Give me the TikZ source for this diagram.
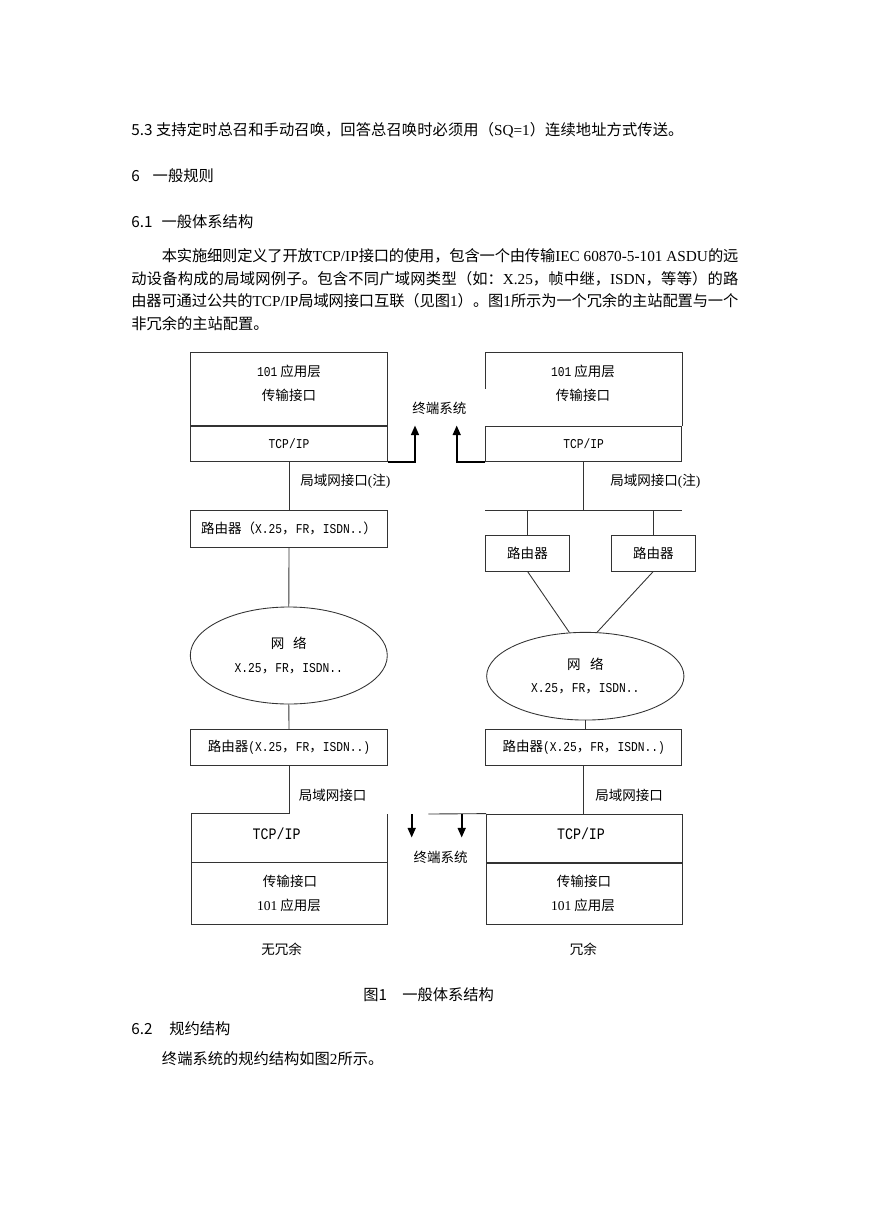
\documentclass[tikz,border=0pt]{standalone}
\usepackage{fontspec}
\setmainfont{Noto Sans CJK SC}
\newfontfamily\tnr{Liberation Serif}
\newfontfamily\hw{Liberation Mono}[FakeStretch=0.833]
\usetikzlibrary{arrows.meta,shapes.geometric,calc}

\newcommand\lat[1]{\mbox{\tnr #1}}
\newlength\pxu
\setlength\pxu{0.24166mm}

\begin{document}
\begin{tikzpicture}[
    x=0.24166mm, y=-0.24166mm,
    font=\fontsize{9.3pt}{11pt}\selectfont,
    ln/.style={draw=black!80, line width=0.6pt},
    box/.style={ln, inner sep=0pt},
    blank/.style={inner sep=0pt},
    txt/.style={inner sep=0pt},
    thk/.style={line width=1.2pt, -{Triangle[length=2.3mm, width=1.9mm]}},
    net/.style={ln, ellipse, inner sep=0pt, align=center},
    body/.style={inner sep=0pt, anchor=west, font=\fontsize{10.5pt}{13pt}\selectfont},
    para/.style={body, anchor=north west, text width=146.7mm, align=justify,
      font=\fontsize{10.5pt}{5.44mm}\selectfont,
      execute at begin node={\XeTeXlinebreaklocale "zh"\XeTeXlinebreakskip=0pt plus 1pt minus 0.5pt
        \tolerance=9999 }},
    mono/.style={font=\fontsize{9.3pt}{11pt}\selectfont\hw},
    big/.style={font=\fontsize{11pt}{13pt}\selectfont\hw}
  ]
  \useasboundingbox (0,0) rectangle (869,1228);

  % page text
  \node[para, text width=133.4mm] (s53) at (131,122.3) {5.3 支持定时总召和手动召唤，回答总召唤时必须用（\lat{SQ=1}）连续地址方式传送。\linebreak};
  \node[body] (h6) at (131,176) {6\hspace{0.85em}一般规则};
  \node[body] (h61) at (131,221.5) {6.1\hspace{0.6em}一般体系结构};
  \node[para] (intro) at (131,248.3) {\hspace*{2em}本实施细则定义了开放\lat{TCP/IP}接口的使用，包含一个由传输\lat{IEC 60870-5-101 ASDU}的远\linebreak
    动设备构成的局域网例子。包含不同广域网类型（如：\lat{X.25}，帧中继，\lat{ISDN}，等等）的路\linebreak
    由器可通过公共的\lat{TCP/IP}局域网接口互联（见图\lat{1}）。图\lat{1}所示为一个冗余的主站配置与一个\linebreak
    非冗余的主站配置。};

  % left: no redundancy
  \node[box, minimum width=196.6\pxu, minimum height=72.6\pxu] (appL) at (289,389) {};
  \node[box, mono, minimum width=196.6\pxu, minimum height=35.7\pxu, anchor=north] (tcpL) at (appL.south) {TCP/IP};
  \node[txt] (appL1) at (289,371.7) {{\hw 101} 应用层};
  \node[txt] (appL2) at (289,395) {传输接口};
  \node[box, minimum width=196.6\pxu, minimum height=37.3\pxu] (rtL) at (289,528.7) {路由器（{\hw X.25}，{\hw FR}，{\hw ISDN..}）};
  \node[net, minimum width=197\pxu, minimum height=97\pxu] (netL) at (288.8,655.5) {网\hspace{0.65em}络\\[6pt]{\hw X.25}，{\hw FR}，{\hw ISDN..}};
  \node[box, minimum width=196.6\pxu, minimum height=35.7\pxu] (rt2L) at (289,747.2) {路由器{\hw (X.25}，{\hw FR}，{\hw ISDN..)}};
  \node[blank, minimum width=195.6\pxu, minimum height=48.3\pxu] (tcpBL) at (289.5,838.2) {};
  \node[blank, minimum width=195.6\pxu, minimum height=61\pxu, anchor=north] (appBL) at (tcpBL.south) {};
  \node[txt, big] (tcpBLt) at (276.7,833.3) {TCP/IP};
  \node[txt] (appBL1) at (290,881.7) {传输接口};
  \node[txt] (appBL2) at (289,905.7) {{\tnr 101} 应用层};
  \node[txt] (noRed) at (281.7,949.3) {无冗余};

  \draw[ln] (tcpL.south) -- (rtL.north);
  \node[txt, anchor=west] (lanL) at (300,481.7) {局域网接口{\tnr (}注{\tnr )}};
  \draw[ln] (rtL.south) -- (netL.north);
  \draw[ln] (netL.south) -- (rt2L.north);
  \draw[ln] (rt2L.south) -- (rt2L.south |- tcpBL.north) -- (tcpBL.north west) -- (appBL.south west)
    -- (appBL.south east) -- (tcpBL.north east);
  \draw[ln] (appBL.north west) -- (appBL.north east);
  \node[txt, anchor=west] (lanBL) at (298.5,795.7) {局域网接口};

  % right: redundancy
  \node[blank, minimum width=196\pxu, minimum height=72.6\pxu] (appR) at (583.7,389) {};
  \draw[ln] ($(appR.south west)+(0,-37)$) -- (appR.north west) -- (appR.north east) -- (appR.south east);
  \node[box, mono, minimum width=196\pxu, minimum height=35.7\pxu, anchor=north] (tcpR) at (appR.south) {TCP/IP};
  \node[txt] (appR1) at (583,371.7) {{\hw 101} 应用层};
  \node[txt] (appR2) at (583,395) {传输接口};
  \coordinate (busW) at (485,510);
  \coordinate (busE) at (681.7,510);
  \draw[ln] (busW) -- (busE);
  \draw[ln] (tcpR.south) -- (tcpR.south |- busW);
  \node[txt, anchor=west] (lanR) at (610,481) {局域网接口{\tnr (}注{\tnr )}};
  \node[box, minimum width=83.6\pxu, minimum height=36\pxu] (rtA) at (527.5,553) {路由器};
  \node[box, minimum width=83.3\pxu, minimum height=36\pxu] (rtB) at (653.3,553) {路由器};
  \draw[ln] (rtA.north) -- (rtA.north |- busW);
  \draw[ln] (rtB.north) -- (rtB.north |- busW);
  \node[net, minimum width=197.3\pxu, minimum height=87.7\pxu] (netR) at (585.3,676.2) {网\hspace{0.7em}络\\[5pt]{\hw X.25}，{\hw FR}，{\hw ISDN..}};
  \draw[ln] (rtA.south) -- (netR.110);
  \draw[ln] (rtB.south) -- (netR.75);
  \node[box, minimum width=196\pxu, minimum height=35.7\pxu] (rt2R) at (583.7,747.2) {路由器{\hw (X.25}，{\hw FR}，{\hw ISDN..)}};
  \draw[ln] (netR.south) -- (netR.south |- rt2R.north);
  \node[box, minimum width=195.8\pxu, minimum height=48.3\pxu] (tcpBR) at (584.4,838.2) {};
  \node[box, minimum width=195.8\pxu, minimum height=61\pxu, anchor=north] (appBR) at (tcpBR.south) {};
  \draw[ln] (rt2R.south) -- (rt2R.south |- tcpBR.north);
  \node[txt, anchor=west] (lanBR) at (595,795.7) {局域网接口};
  \node[txt, big] (tcpBRt) at (581,833.3) {TCP/IP};
  \node[txt] (appBR1) at (584,881.7) {传输接口};
  \node[txt] (appBR2) at (583,905.7) {{\tnr 101} 应用层};
  \node[txt] (red) at (583.3,949.3) {冗余};

  % end systems in the middle
  \node[txt] (endT) at (439.3,408.3) {终端系统};
  \coordinate (upL) at (415,425.5);
  \coordinate (upR) at (456.7,425.5);
  \draw[thk] (tcpL.south east) -| (upL);
  \draw[thk] (tcpR.south west) -| (upR);
  \node[txt] (endB) at (440.7,857.3) {终端系统};
  \coordinate (dnL0) at (411.7,814);
  \coordinate (dnL) at (411.7,837.5);
  \coordinate (lanM) at (428.3,814);
  \coordinate (dnR) at (461.7,837.5);
  \draw[thk] (dnL0) -- (dnL);
  \draw[ln] (lanM) -- (tcpBR.north west);
  \draw[thk] (lanM -| dnR) -- (dnR);

  % caption and following text
  \node[body] (cap) at (363,995) {图1\hspace{1em}一般体系结构};
  \node[body] (h62) at (131,1029) {6.2\hspace{1.1em}规约结构};
  \node[body] (last) at (161.7,1059) {终端系统的规约结构如图\lat{2}所示。};
\end{tikzpicture}
\end{document}
